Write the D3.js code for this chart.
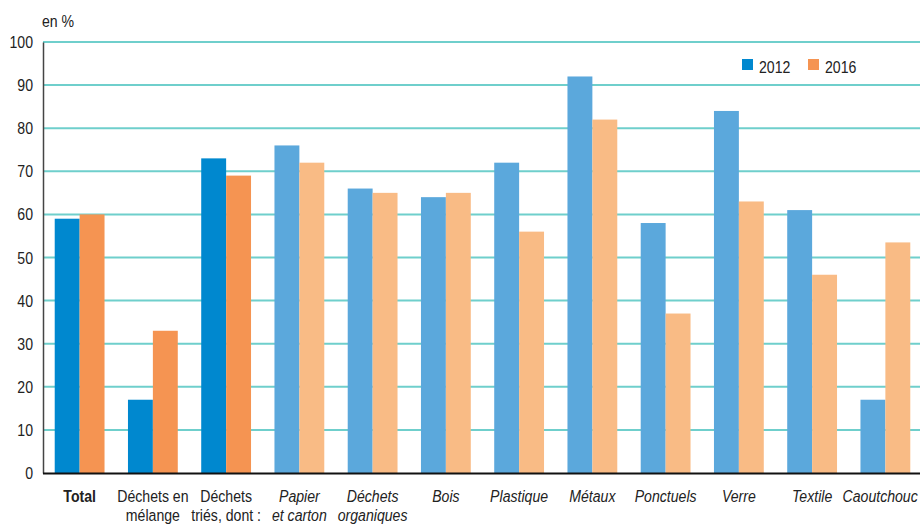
<!DOCTYPE html>
<html>
<head>
<meta charset="utf-8">
<script src="https://cdn.jsdelivr.net/npm/d3@7"></script>
<style>
  body { margin: 0; background: #fff; }
  text { font-family: "Liberation Sans Narrow", "Liberation Sans", Arial, sans-serif; fill: #222; font-size: 17px; }
</style>
</head>
<body>
<svg id="chart" width="920" height="524"></svg>
<script>
// categories (two lines each), styles for bold / italic
var categories = ["Total", "Déchets en mélange", "Déchets triés, dont :", "Papier et carton", "Déchets organiques",
  "Bois", "Plastique", "Métaux", "Ponctuels", "Verre", "Textile", "Caoutchouc"];
var labelLines = [["Total"], ["Déchets en", "mélange"], ["Déchets", "triés, dont :"], ["Papier", "et carton"],
  ["Déchets", "organiques"], ["Bois"], ["Plastique"], ["Métaux"], ["Ponctuels"], ["Verre"], ["Textile"], ["Caoutchouc"]];
var values2012 = [59, 17, 73, 76, 66, 64, 72, 92, 58, 84, 61, 17];
var values2016 = [60, 33, 69, 72, 65, 65, 56, 82, 37, 63, 46, 53.5];
var series = ["2012", "2016"];
var yTicks = [0, 10, 20, 30, 40, 50, 60, 70, 80, 90, 100];

var darkColors = {"2012": "#0088cf", "2016": "#f59452"};
var lightColors = {"2012": "#5ba8dc", "2016": "#f9bb85"};

var svg = d3.select("#chart");
var plotLeft = 43, plotRight = 922, plotTop = 42, plotBottom = 473;
var narrow = 0.83; // squeeze text horizontally, like a narrow font

var x = d3.scaleBand().domain(categories).range([plotLeft, plotRight]).paddingInner(0.32).paddingOuter(0.16);
var xs = d3.scaleBand().domain(series).range([0, x.bandwidth()]);
var y = d3.scaleLinear().domain([0, 100]).range([plotBottom, plotTop]);

function narrowText(sel, px, py){
  return sel.attr("transform", "translate(" + px + "," + py + ") scale(" + narrow + ",1)");
}

// gridlines
svg.append("g").selectAll("line").data(yTicks.filter(function(d){ return d > 0; }))
  .enter().append("line")
  .attr("x1", plotLeft).attr("x2", 920)
  .attr("y1", function(d){ return y(d); }).attr("y2", function(d){ return y(d); })
  .style("stroke", "#6fcfcc").style("stroke-width", 2);

// bars
var rows = categories.map(function(c, i){
  return {cat: c, idx: i, vals: [{s: "2012", v: values2012[i]}, {s: "2016", v: values2016[i]}]};
});
var groups = svg.append("g").selectAll("g").data(rows).enter().append("g")
  .attr("transform", function(d){ return "translate(" + x(d.cat) + ",0)"; });
groups.selectAll("rect").data(function(d){ return d.vals.map(function(v){ return {s: v.s, v: v.v, idx: d.idx}; }); })
  .enter().append("rect")
  .attr("x", function(d){ return xs(d.s); })
  .attr("width", xs.bandwidth())
  .attr("y", function(d){ return y(d.v); })
  .attr("height", function(d){ return plotBottom - y(d.v); })
  .style("fill", function(d){ return d.idx < 3 ? darkColors[d.s] : lightColors[d.s]; });

// y axis line + tick labels
var yAxis = d3.axisLeft(y).tickValues(yTicks).tickSize(0).tickFormat("");
var gy = svg.append("g").attr("transform", "translate(" + plotLeft + ",0)").call(yAxis);
gy.select(".domain").style("stroke", "#444").style("stroke-width", 1.5);
svg.append("g").selectAll("text").data(yTicks).enter().append("text")
  .each(function(d){ narrowText(d3.select(this), 33, y(d) + 6); })
  .attr("text-anchor", "end")
  .text(function(d){ return d; });

// x axis line
svg.append("line").attr("x1", plotLeft).attr("x2", 920).attr("y1", plotBottom + 0.5).attr("y2", plotBottom + 0.5)
  .style("stroke", "#111").style("stroke-width", 2);

// category labels (last one pulled in so it stays inside the picture)
rows.forEach(function(r){
  var t = svg.append("text").attr("text-anchor", "middle")
    .style("font-weight", r.idx === 0 ? "bold" : "normal")
    .style("font-style", r.idx < 3 ? "normal" : "italic");
  t.selectAll("tspan").data(labelLines[r.idx]).enter().append("tspan")
    .attr("x", 0)
    .attr("dy", function(d, i){ return i === 0 ? 0 : 19.5; })
    .text(function(d){ return d; });
  var cx = x(r.cat) + x.bandwidth() / 2;
  var half = t.node().getBBox().width * narrow / 2;
  if (cx + half > 918) cx = 918 - half;
  narrowText(t, cx, 502);
});

// unit label
narrowText(svg.append("text"), 42, 27).text("en %");

// legend
var legend = svg.append("g").selectAll("g").data(series).enter().append("g")
  .attr("transform", function(d, i){ return "translate(" + (742 + i * 66) + ",59)"; });
legend.append("rect").attr("width", 11).attr("height", 11)
  .style("fill", function(d){ return darkColors[d]; });
legend.append("text").each(function(){ narrowText(d3.select(this), 17, 14); })
  .text(function(d){ return d; });
</script>
</body>
</html>
